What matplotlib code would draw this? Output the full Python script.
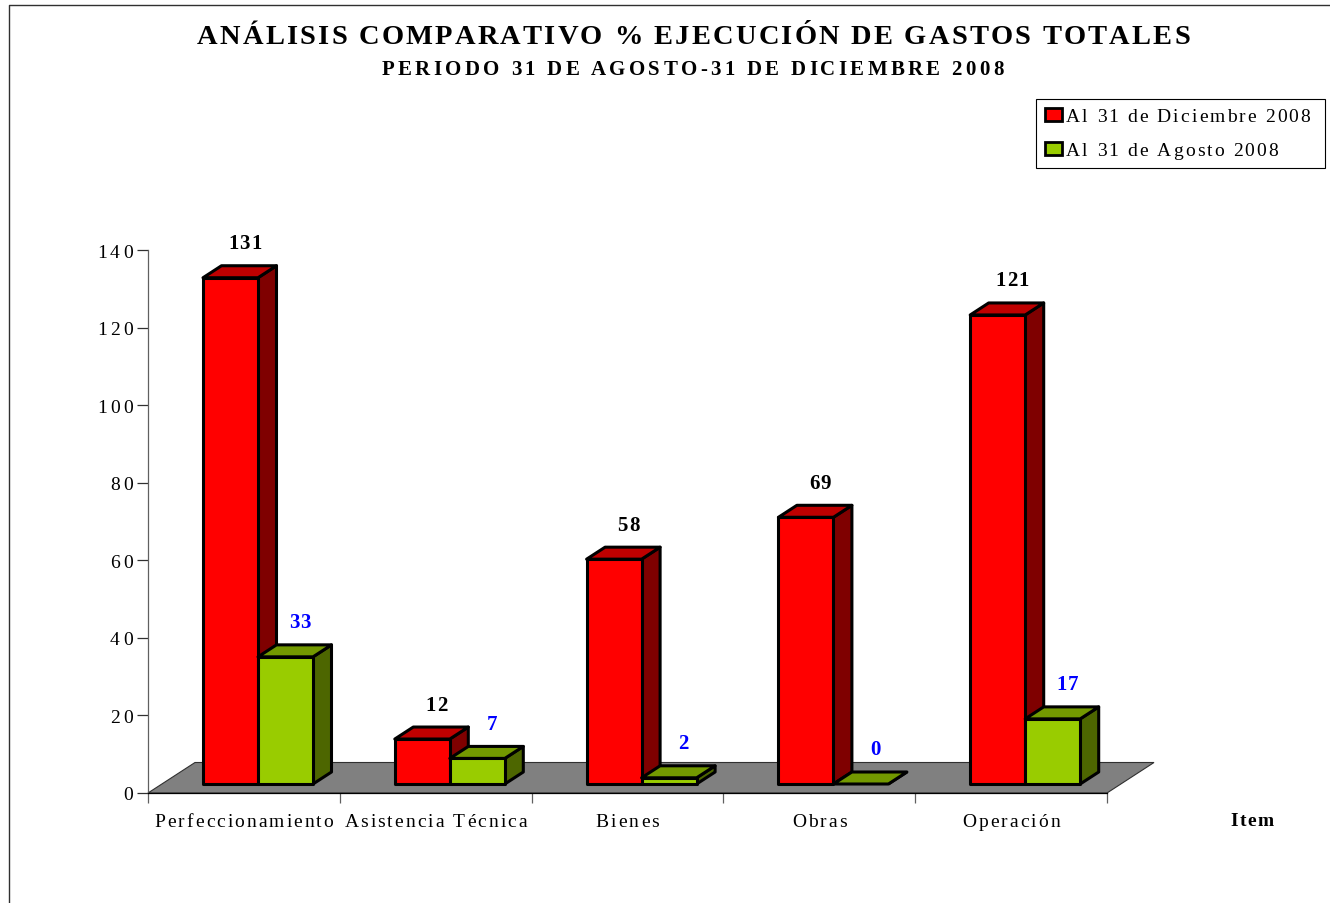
import matplotlib
matplotlib.use("Agg")
import matplotlib.pyplot as plt
from matplotlib.font_manager import findfont, get_font
from matplotlib.ft2font import LoadFlags
from matplotlib.lines import Line2D
from matplotlib.patches import Patch, Polygon
from matplotlib.text import Text
from matplotlib.transforms import Bbox, IdentityTransform

categories = ["Perfeccionamiento", "Asistencia Técnica", "Bienes", "Obras", "Operación"]
dec_values = [130.6, 11.6, 58, 68.8, 121]
aug_values = [32.8, 6.6, 1.6, 0, 16.8]
y_ticks = [0, 20, 40, 60, 80, 100, 120, 140]
dec_label = "Al 31 de Diciembre 2008"
aug_label = "Al 31 de Agosto 2008"
title = "ANÁLISIS COMPARATIVO % EJECUCIÓN DE GASTOS TOTALES"
subtitle = "PERIODO 31 DE AGOSTO-31 DE DICIEMBRE 2008"

W, H = 1330, 904
plt.rcParams["font.family"] = ["Liberation Serif", "DejaVu Serif"]


class TrackedText(Text):
    """A single text artist drawn with extra letter spacing (px)."""
    tracking = 0.0

    def _extra(self):
        return self.tracking * (len(self.get_text()) - 1)

    def _frac(self):
        return {"left": 0.0, "center": 0.5, "right": 1.0}[self.get_horizontalalignment()]

    def _advances(self):
        fp = self.get_fontproperties()
        font = get_font(findfont(fp))
        font.set_size(fp.get_size_in_points(), self.get_figure(root=True).dpi)
        return [font.load_char(ord(c), flags=LoadFlags.NO_HINTING).linearHoriAdvance / 65536
                for c in self.get_text()]

    def draw(self, renderer):
        s = self.get_text()
        if not self.get_visible() or not s:
            return
        fp = self.get_fontproperties()
        advances = self._advances()
        _, info, _ = self._get_layout(renderer)
        px, py = self.get_transform().transform(self.get_unitless_position())
        x = px - self._frac() * (sum(advances) + self._extra())
        y = py + info[0][3]
        for ch, adv in zip(s, advances):
            t = Text(x, y, ch, fontproperties=fp, color=self.get_color(), ha="left", va="baseline",
                     transform=IdentityTransform())
            t.set_figure(self.get_figure(root=True))
            t.draw(renderer)
            x += adv + self.tracking

    def get_window_extent(self, renderer=None, dpi=None):
        b = super().get_window_extent(renderer, dpi)
        shift = -self._frac() * self._extra()
        return Bbox.from_extents(b.x0 + shift, b.y0, b.x0 + shift + b.width + self._extra(), b.y1)


def track(t, px):
    t.__class__ = TrackedText
    t.tracking = px
    return t


fig = plt.figure(figsize=(W / 100, H / 100), dpi=100, facecolor="white")
ax = fig.add_axes([148 / W, 1 - 794 / H, (1107 - 148) / W, (794 - 251.3) / H])
ax.set_xlim(0, len(categories))
ax.set_ylim(0, 140)
ax.patch.set_visible(False)

# projection of the pseudo-3D scene, expressed in data units
PX = len(categories) / 959
PY = 140 / 542.7
floor_dx, floor_dy = 47 * PX, 30.5 * PY
depth_dx, depth_dy = 18.5 * PX, 12 * PY
base = 9 * PY
bar_w = 55 * PX
edge_lw = 2.2

ax.add_patch(Polygon([(0, 0), (len(categories), 0), (len(categories) + floor_dx, floor_dy), (floor_dx, floor_dy)],
                     closed=True, fc="#808080", ec="#303030", lw=0.8, clip_on=False, zorder=1))


def prism(x0, v, front, top, side):
    y1 = base + v
    kw = dict(closed=True, ec="black", lw=edge_lw, joinstyle="round", clip_on=False, zorder=2)
    ax.add_patch(Polygon([(x0 + bar_w, base), (x0 + bar_w + depth_dx, base + depth_dy),
                          (x0 + bar_w + depth_dx, y1 + depth_dy), (x0 + bar_w, y1)], fc=side, **kw))
    ax.add_patch(Polygon([(x0, y1), (x0 + bar_w, y1), (x0 + bar_w + depth_dx, y1 + depth_dy),
                          (x0 + depth_dx, y1 + depth_dy)], fc=top, **kw))
    if v > 0:
        ax.add_patch(Polygon([(x0, base), (x0 + bar_w, base), (x0 + bar_w, y1), (x0, y1)], fc=front, **kw))


def value_label(x0, v, color):
    t = ax.text(x0 + bar_w / 2 + depth_dx / 2 + 5 * PX, base + v + depth_dy + 17.5 * PY, f"{v:.0f}",
                ha="center", va="baseline", fontsize=15, fontweight="bold", color=color, zorder=5)
    track(t, 1.0)


for i, (d, a) in enumerate(zip(dec_values, aug_values)):
    x_left = i + 55 * PX
    prism(x_left, d, "#FF0000", "#BF0000", "#7F0000")
    prism(x_left + bar_w, a, "#99CC00", "#739900", "#4D6600")
    value_label(x_left, d, "black")
    value_label(x_left + bar_w, a, "#0000FF")

# axes
for s in ("top", "right"):
    ax.spines[s].set_visible(False)
ax.spines["left"].set_color("#606060")
ax.spines["left"].set_linewidth(0.9)
ax.spines["bottom"].set_color("black")
ax.spines["bottom"].set_linewidth(0.9)
ax.spines["bottom"].set_zorder(3)

ax.set_yticks(y_ticks)
ax.tick_params(axis="y", length=8, width=0.9, color="#303030", pad=3, labelsize=14)
for t in ax.get_yticklabels():
    track(t, 3.2)

ax.set_xticks(range(len(categories) + 1))
ax.set_xticklabels([])
ax.set_xticks([i + 0.5 for i in range(len(categories))], minor=True)
ax.set_xticklabels(categories, minor=True)
ax.tick_params(axis="x", which="major", length=7.2, width=0.9, color="#606060")
ax.tick_params(axis="x", which="minor", length=0, pad=14.5, labelsize=14)
for t in ax.get_xticklabels(minor=True):
    track(t, 2.05)

ax.set_xlabel("Item", fontsize=14, fontweight="bold")
ax.xaxis.set_label_coords((1252 - 148) / 959, -(826 - 794) / 542.7)
ax.xaxis.label.set_va("baseline")
track(ax.xaxis.label, 1.5)

# titles
track(fig.text(693.5 / W, 1 - 44.5 / H, title, ha="center", va="baseline", fontsize=20.5, fontweight="bold"), 2.2)
track(fig.text(692.5 / W, 1 - 75 / H, subtitle, ha="center", va="baseline", fontsize=15, fontweight="bold"), 3.3)

# legend
handles = [Patch(fc="#FF0000", ec="black", lw=2, label=dec_label),
           Patch(fc="#99CC00", ec="black", lw=2, label=aug_label)]
leg = fig.legend(handles=handles, loc="upper left", mode="expand", ncol=1,
                 bbox_to_anchor=(1036 / W, 1 - 167 / H, (1325 - 1036) / W, 67 / H),
                 fontsize=14, fancybox=False, framealpha=1, edgecolor="black",
                 handlelength=0.87, handleheight=0.62, handletextpad=0.2, borderpad=0.47,
                 labelspacing=0.87, borderaxespad=0)
leg.get_frame().set_linewidth(0.8)
for t in leg.get_texts():
    track(t, 2.1)

# outer frame: top and left edges
fig.add_artist(Line2D([9 / W, 9 / W, 1], [0, 1 - 5.5 / H, 1 - 5.5 / H], color="#303030", lw=1.0))

fig.savefig("out.png", dpi=100)
